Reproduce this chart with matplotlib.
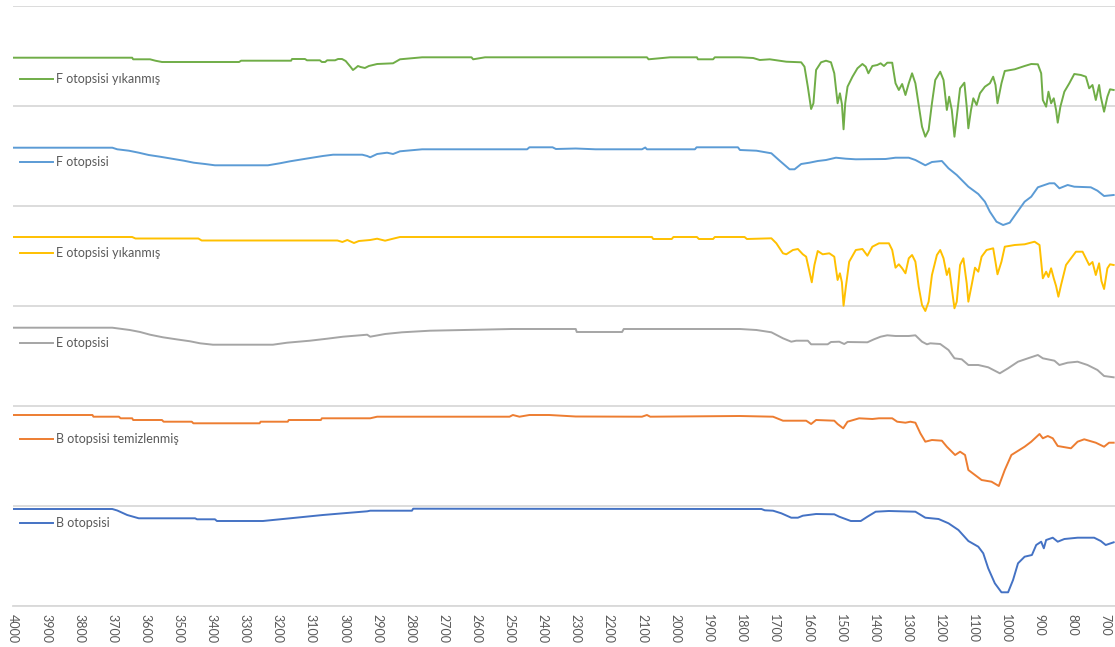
import matplotlib
matplotlib.use('Agg')
import matplotlib.pyplot as plt

# FTIR spectra, stacked with a fixed offset so each sits in its own band
wn_f_wash = [4000, 3640, 3637, 3586, 3570, 3550, 3317, 3311, 3160, 3157, 3118, 3112, 3073, 3067, 3057, 3051,
             3027, 3018, 3006, 2995, 2980, 2973, 2965, 2958, 2950, 2937, 2925, 2900, 2852, 2831, 2764, 2615,
             2610, 2574, 2085, 2080, 2015, 1934, 1931, 1885, 1880, 1804, 1764, 1744, 1714, 1664, 1619, 1609,
             1599, 1589, 1582, 1574, 1559, 1544, 1529, 1519, 1509, 1502, 1496, 1491, 1486, 1479, 1464, 1449,
             1434, 1424, 1416, 1404, 1389, 1379, 1369, 1359, 1344, 1334, 1324, 1314, 1304, 1294, 1284, 1274,
             1264, 1254, 1244, 1234, 1224, 1214, 1199, 1189, 1179, 1172, 1164, 1156, 1149, 1139, 1126, 1119,
             1114, 1106, 1099, 1089, 1079, 1064, 1049, 1039, 1032, 1026, 1014, 1004, 974, 944, 924, 904,
             894, 889, 879, 872, 864, 856, 849, 844, 836, 824, 809, 794, 774, 759, 749, 739,
             729, 719, 714, 704, 694, 686, 675]
f_wash = [548.3, 548.3, 546.7, 546.7, 545.3, 544, 544, 545.3, 545.3, 547, 547, 545.7, 545.7, 544, 544, 545.7,
          545.7, 547, 547, 545, 539, 536, 538, 540, 539, 538, 540, 542, 542.7, 546.7, 548.7, 548.7,
          546.7, 548.7, 548.7, 546.7, 548.7, 548.7, 546.7, 546.7, 548.7, 548.7, 548, 546, 546.7, 544.3, 543.7, 539.3,
          519.3, 497, 502.7, 536, 543.7, 545.3, 543.7, 532.7, 502.7, 512.7, 502, 476.7, 502.7, 519.3, 529.3, 537.7,
          542, 539.3, 532.7, 540, 541, 542.7, 540, 543.3, 543.3, 522.7, 516, 522, 511, 522.7, 532.7, 522.7,
          501, 479.3, 469.3, 476, 502.7, 526, 534.3, 526, 496, 509.3, 496, 469.3, 489.3, 517.7, 523.3, 499.3,
          477.7, 496, 507.7, 501, 512.7, 519.3, 522.7, 529.3, 521, 502.7, 522.7, 535, 536.7, 540, 542, 541.7,
          532.7, 506, 499.3, 514.3, 502.7, 507.7, 496, 483.3, 499.3, 514.3, 522.7, 532, 531, 529.3, 517.7, 521,
          506, 521, 509.3, 494.3, 509.3, 516.7, 516]

wn_f = [4000, 3700, 3685, 3650, 3620, 3590, 3556, 3520, 3484, 3454, 3420, 3390, 3230, 3194, 3163, 3115,
        3064, 3033, 2945, 2930, 2921, 2900, 2870, 2852, 2831, 2764, 2447, 2440, 2370, 2360, 2300, 2240,
        2100, 2090, 2085, 1940, 1935, 1810, 1804, 1754, 1709, 1684, 1654, 1639, 1619, 1594, 1569, 1544,
        1514, 1484, 1454, 1364, 1334, 1294, 1274, 1244, 1224, 1194, 1174, 1149, 1114, 1084, 1064, 1049,
        1029, 1009, 989, 969, 944, 924, 904, 884, 869, 854, 839, 814, 794, 744, 724, 704, 675]
f_plain = [458.3, 458.3, 456.7, 455.3, 453.3, 451, 449.3, 447.3, 445.3, 443.3, 442, 440.7, 440.7, 442.7, 444.7, 447.3,
           450, 451.3, 451.3, 450, 448.7, 452, 453.3, 452, 454.7, 456.7, 456.7, 458.7, 458.7, 457, 457.5, 456.7,
           456.7, 458.5, 456.7, 456.7, 458.7, 458.7, 456, 455.3, 452.7, 445.3, 436.7, 436.7, 442, 443.3, 445, 446,
           448.3, 447.3, 446.7, 447, 448.3, 448.3, 446, 440.7, 444, 445, 437.7, 431, 419.3, 412, 404.3, 394.3,
           384.3, 381, 383.3, 392.7, 404.3, 409.3, 418.7, 421, 422.7, 422.7, 417.7, 421, 419.3, 418.7, 415.3, 410, 411]

wn_e_wash = [4000, 3640, 3630, 3440, 3430, 3020, 3005, 2990, 2970, 2955, 2921, 2900, 2876, 2852, 2831, 2070,
             2066, 2010, 2005, 1934, 1928, 1885, 1880, 1790, 1783, 1709, 1694, 1674, 1664, 1644, 1629, 1614,
             1604, 1594, 1587, 1579, 1569, 1554, 1534, 1519, 1509, 1502, 1496, 1491, 1484, 1474, 1454, 1434,
             1419, 1404, 1384, 1354, 1344, 1334, 1324, 1314, 1304, 1294, 1284, 1274, 1264, 1254, 1244, 1234,
             1224, 1209, 1199, 1189, 1179, 1172, 1164, 1156, 1149, 1139, 1129, 1119, 1114, 1104, 1094, 1084,
             1074, 1059, 1039, 1032, 1026, 1014, 1004, 974, 944, 914, 899, 889, 879, 872, 864, 856,
             849, 842, 834, 819, 804, 789, 769, 759, 749, 739, 729, 719, 712, 704, 694, 686, 675]
e_wash = [369, 369, 367.5, 367.5, 365.5, 365.5, 364, 366, 363, 365, 366, 367.3, 365.3, 367.3, 369, 369,
          367, 367, 369, 369, 367, 367, 369, 369, 367, 367.7, 362.7, 352.7, 351.7, 356, 357, 351.7,
          349.3, 334.3, 323.7, 341, 355, 351.7, 352.7, 349.3, 326, 332.7, 323.7, 300.3, 319.3, 344.3, 356, 357,
          350.3, 359.3, 362.7, 362.7, 356, 338.3, 341.7, 337.7, 332.7, 347.7, 351, 344.3, 319.3, 301, 295, 304.3,
          331, 351, 356, 347.7, 331, 337.7, 317.7, 297.7, 304.3, 341, 347.7, 322.7, 304.3, 321, 338.3, 334.3,
          349.3, 356, 357.7, 344, 331.7, 344.3, 359.3, 361, 361.7, 364.3, 361, 327.7, 334.3, 329, 337.7, 327.7,
          320, 309.3, 321, 341, 347.7, 354.3, 354.3, 347.7, 341, 344, 331, 342.7, 325, 317, 337.7, 341.7, 341]

wn_e = [4000, 3700, 3647, 3616, 3586, 3547, 3507, 3465, 3435, 3396, 3215, 3172, 3103, 3051, 3003, 2930,
        2921, 2876, 2825, 2740, 2493, 2300, 2297, 2160, 2155, 1810, 1804, 1754, 1709, 1674, 1649, 1634,
        1599, 1589, 1539, 1529, 1504, 1489, 1479, 1419, 1399, 1379, 1359, 1334, 1294, 1274, 1254, 1239,
        1229, 1199, 1174, 1156, 1134, 1114, 1084, 1054, 1019, 994, 964, 934, 904, 889, 854, 839,
        814, 784, 754, 724, 704, 675]
e_plain = [278.3, 278.3, 276, 274, 271.3, 268.7, 266.7, 264.7, 262.7, 261.3, 261.3, 263.3, 265.3, 267.3, 269.3, 271.3,
           269.3, 272, 273.7, 275.3, 277, 277, 274, 274, 277, 277, 277, 276, 273.7, 267.7, 264.3, 265.3,
           265.3, 261.7, 261.7, 264, 264.3, 262, 264, 263.7, 266.7, 269.3, 270.7, 270, 270, 270.7, 264.3, 261.7,
           262.7, 262, 256, 247.7, 246.7, 241, 241, 238.7, 232.7, 237.7, 244.3, 247.7, 251, 247.7, 245.3, 241,
           243.3, 244.3, 241, 236, 230, 228.7]

wn_b_clean = [4000, 3760, 3757, 3680, 3675, 3640, 3637, 3550, 3545, 3460, 3455, 3255, 3252, 3170, 3167, 3070,
              3067, 2921, 2900, 2500, 2490, 2470, 2440, 2380, 2300, 2100, 2085, 2075, 1804, 1704, 1674, 1604,
              1589, 1574, 1519, 1509, 1492, 1479, 1444, 1404, 1384, 1344, 1329, 1304, 1289, 1274, 1259, 1244,
              1224, 1194, 1179, 1154, 1139, 1124, 1114, 1094, 1074, 1044, 1022, 1004, 984, 944, 924, 899,
              889, 874, 859, 844, 804, 784, 764, 729, 704, 689, 675]
b_clean = [191, 191, 189.3, 189.3, 187.7, 187.7, 186, 186, 184.3, 184.3, 182.7, 182.7, 184.3, 184.3, 186, 186,
           187.7, 187.7, 189.3, 189.3, 191, 189.3, 191, 191, 189.5, 189.3, 191, 189.3, 190, 189.3, 185.3, 185.3,
           182, 186, 185.3, 182, 177.7, 184.3, 187.7, 187, 187.7, 187.7, 184.3, 183.3, 184.3, 183.3, 172.7, 164.3,
           166, 165.3, 159.3, 151, 154.3, 151, 136, 131, 126, 124.3, 120, 136, 151, 159.3, 164.3, 172,
           167.7, 170, 167.7, 160, 157.7, 164.3, 166.7, 163.3, 159.3, 163.3, 163.3]

wn_b = [4000, 3700, 3685, 3655, 3620, 3450, 3444, 3390, 3384, 3245, 3215, 3163, 3115, 3064, 3003, 2930,
        2921, 2795, 2791, 1804, 1739, 1729, 1704, 1679, 1649, 1629, 1614, 1574, 1519, 1504, 1469, 1439,
        1419, 1394, 1354, 1274, 1244, 1204, 1174, 1144, 1114, 1084, 1069, 1054, 1034, 1014, 994, 979,
        964, 944, 922, 909, 894, 886, 879, 859, 844, 824, 784, 734, 714, 699, 675]
b_plain = [97, 97, 95.5, 91, 87.7, 87.7, 86.7, 86.7, 85, 85, 86, 87.7, 89.3, 91, 92.7, 94.7,
           95.3, 95.3, 97.3, 97, 97, 95.7, 95.3, 92.7, 88.3, 88.3, 90.3, 92, 91.7, 89.3, 85, 85,
           89.3, 94.3, 95, 94.3, 88.3, 87, 82.7, 76, 65, 59.3, 52.7, 37.7, 22.7, 13.7, 13.7, 26,
           42.7, 49.3, 51, 61, 64.3, 57.7, 66, 68.3, 64.3, 67, 68.3, 68.3, 65, 61, 63.7]

names = ['F otopsisi yıkanmış', 'F otopsisi', 'E otopsisi yıkanmış',
         'E otopsisi', 'B otopsisi temizlenmiş', 'B otopsisi']
colors = ['#70AD47', '#5B9BD5', '#FFC000', '#A5A5A5', '#ED7D31', '#4472C4']
series = [(wn_f_wash, f_wash), (wn_f, f_plain), (wn_e_wash, e_wash),
          (wn_e, e_plain), (wn_b_clean, b_clean), (wn_b, b_plain)]
# where each series name sits along the y axis
label_y = [527, 444, 353, 263, 167, 83]

ticks = list(range(4000, 699, -100))

plt.rcParams['font.family'] = ['Lato', 'DejaVu Sans']
fig = plt.figure(figsize=(11.15, 6.47), dpi=100)
ax = fig.add_axes([13 / 1115, 41 / 647, 1102 / 1115, 600 / 647])

for (x, y), c in zip(series, colors):
    ax.plot(x, y, color=c, lw=1.4, zorder=3)

for name, c, ly in zip(names, colors, label_y):
    ax.plot([0.0064, 0.0363], [ly / 600, ly / 600], transform=ax.transAxes,
            color=c, lw=1.4, clip_on=False)
    ax.text(0.039, ly / 600, name, transform=ax.transAxes, fontsize=9,
            color='#595959', va='center', ha='left')

ax.set_xlim(4000, 671)
ax.set_ylim(0, 600)
ax.set_yticks(range(0, 601, 100))
ax.set_yticklabels([])
ax.tick_params(axis='y', length=0)
ax.grid(axis='y', color='#D9D9D9', lw=1.3)
ax.set_axisbelow(True)
ax.set_xticks(ticks)
ax.set_xticklabels([str(t) for t in ticks], rotation=270, fontsize=9, color='#595959')
ax.tick_params(axis='x', length=0, pad=6)
for s in ['left', 'right', 'top']:
    ax.spines[s].set_visible(False)
ax.spines['bottom'].set_color('#D9D9D9')
ax.spines['bottom'].set_linewidth(1.3)

fig.savefig('out.png', dpi=100)
